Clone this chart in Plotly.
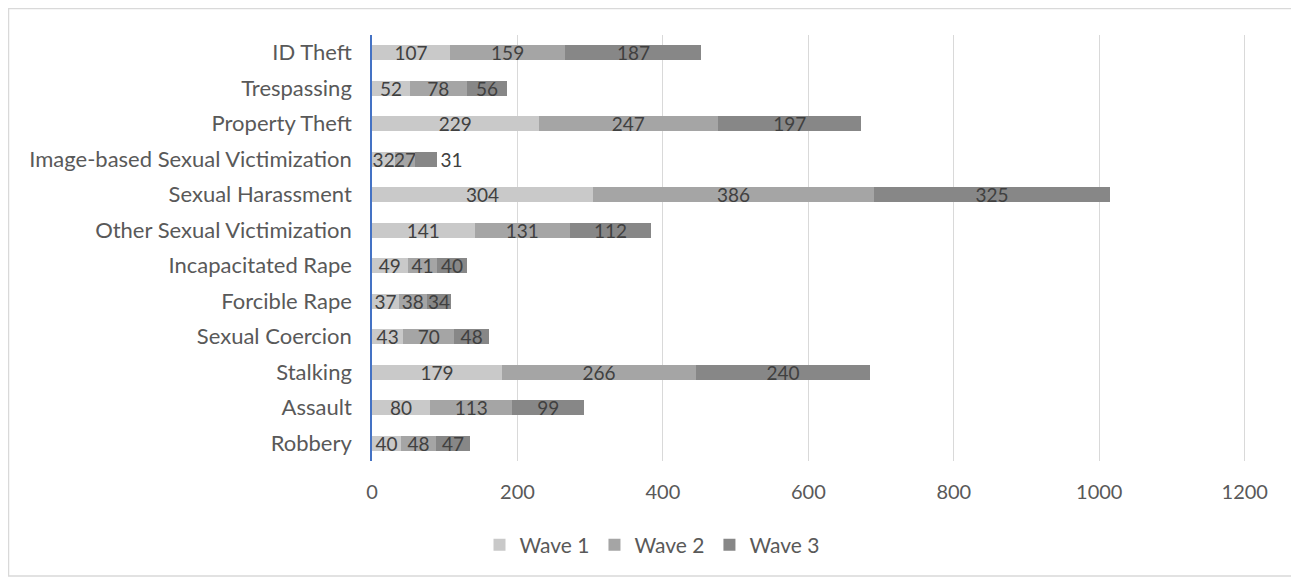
import plotly.graph_objects as go

categories = ["Robbery", "Assault", "Stalking", "Sexual Coercion", "Forcible Rape",
              "Incapacitated Rape", "Other Sexual Victimization", "Sexual Harassment",
              "Image-based Sexual Victimization", "Property Theft", "Trespassing", "ID Theft"]
wave1 = [40, 80, 179, 43, 37, 49, 141, 304, 32, 229, 52, 107]
wave2 = [48, 113, 266, 70, 38, 41, 131, 386, 27, 247, 78, 159]
wave3 = [47, 99, 240, 48, 34, 40, 112, 325, 31, 197, 56, 187]
series_names = ["Wave 1", "Wave 2", "Wave 3"]
colors = ["#C9C9C9", "#A5A5A5", "#878787"]
x_ticks = [0, 200, 400, 600, 800, 1000, 1200]

FONT = "Lato"
fig = go.Figure()
for name, vals, col in zip(series_names, [wave1, wave2, wave3], colors):
    positions = ["inside"] * len(vals)
    if name == "Wave 3":
        positions[categories.index("Image-based Sexual Victimization")] = "outside"
    fig.add_trace(go.Bar(
        y=categories, x=vals, name=name, orientation="h",
        marker=dict(color=col, line=dict(width=0)),
        text=[str(v) for v in vals], textposition=positions,
        insidetextanchor="middle", constraintext="none", textangle=0,
        textfont=dict(family=FONT, size=19, color="#404040"),
        outsidetextfont=dict(family=FONT, size=19, color="#404040"),
        cliponaxis=False,
    ))

OFF = 8  # page body margin
W, H = 1299 - OFF, 578 - OFF
XMAX = 1210
L, T, B = 372 - OFF, 35 - OFF, 461 - OFF
R = L + round(873 * XMAX / 1200)
pw, ph = R - L, B - T

def px(xp):
    return (xp - OFF - L) / pw

def py(yp):
    return (B - (yp - OFF)) / ph

fig.update_layout(
    barmode="stack",
    bargap=0.59,
    width=W, height=H,
    margin=dict(l=L, r=W - R, t=T, b=H - B),
    paper_bgcolor="white", plot_bgcolor="white",
    font=dict(family=FONT, size=21, color="#595959"),
    showlegend=True,
    legend=dict(orientation="h", x=px(652), xanchor="center", y=py(545), yanchor="middle",
                font=dict(family=FONT, size=21, color="#595959"),
                traceorder="normal", itemwidth=30, bgcolor="rgba(0,0,0,0)"),
    xaxis=dict(range=[0, XMAX], tickvals=x_ticks, showgrid=True, gridcolor="#D9D9D9",
               gridwidth=1.3, zeroline=False, showline=False,
               tickfont=dict(family=FONT, size=20, color="#595959"),
               ticklabelstandoff=17),
    yaxis=dict(categoryorder="array", categoryarray=categories, showline=True,
               linecolor="#4472C4", linewidth=1.5, showgrid=False, zeroline=False,
               tickfont=dict(family=FONT, size=22, color="#595959"),
               ticklabelstandoff=14),
    shapes=[dict(type="rect", xref="paper", yref="paper",
                 x0=px(8.5), x1=px(1297), y0=py(576), y1=py(8.5),
                 line=dict(color="#D9D9D9", width=1.5), fillcolor="rgba(0,0,0,0)",
                 layer="below")],
)

fig.write_html("out.html")
